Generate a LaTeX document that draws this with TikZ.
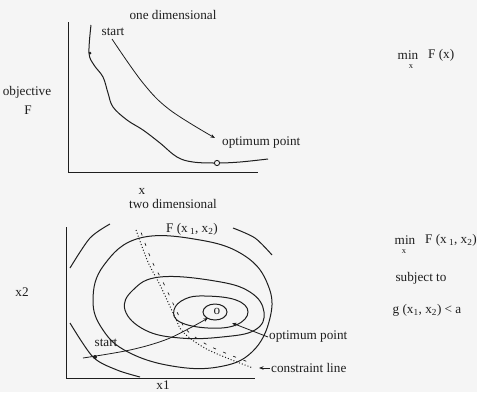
\documentclass[tikz,border=0pt]{standalone}
\usepackage{fontspec}
\setmainfont{Liberation Serif}
\usetikzlibrary{arrows.meta, positioning, decorations.markings}

\definecolor{paper}{RGB}{245,245,245}
\definecolor{ink}{RGB}{30,30,30}

\begin{document}
\begin{tikzpicture}[x=1pt, y=-1pt,
        every node/.style={font=\fontsize{13.2}{15}\selectfont, inner sep=1pt, text=ink},
        axis/.style={draw=ink, line width=1pt},
        contour/.style={draw=ink, line width=1pt},
        pointer/.style={draw=ink, -{Stealth[length=4.5pt, width=3.5pt]}, line width=0.8pt},
        constraint/.style={draw=ink, dotted, line width=1pt, postaction={decorate},
            decoration={markings, mark=between positions 0.03 and 0.97 step 11pt with
                {\draw[solid, ink, line width=0.7pt] (-1.5pt,4pt) -- (1.5pt,4pt);}}}
    ]
    \fill[paper] (0,0) rectangle (477,392);
    \useasboundingbox (0,0) rectangle (477,392);

    % One dimensional
    \node (title1) at (173,15) {one dimensional};
    \node (obj) at (27,92) {objective};
    \node (objF) at (28,110) {F};
    \node (xlab) at (142,191) {x};
    \draw [axis] (68,22) -- (68,172) -- (258,172);
    \draw [contour] plot [smooth, tension=0.6] coordinates {(91,25) (89,53) (94,65) (103,77) (108,93)
        (113,107) (127,120) (143,130) (160,143) (177,157) (193,162) (217,163) (240,162) (268,159)};
    \fill [ink] (90,53) circle (1.5);
    \draw [ink, line width=0.9pt, fill=paper] (217,163) circle (2.6);
    \node (start1) at (113,32) {start};
    \node (opt1) [anchor=west] at (221,143) {optimum point};
    \coordinate (from1) at (112,39);
    \coordinate (to1) at (215,138);
    \draw [pointer] plot [smooth, tension=0.6] coordinates {(from1) (143,83) (170,110) (to1)};
    \node (minA) at (408,55) {min};
    \node (minAx) [font=\fontsize{8.5}{9}\selectfont] at (411,67) {x};
    \node (FA) [anchor=west] at (427,55) {F (x)};

    % Two dimensional
    \node (title2) at (173,204) {two dimensional};
    \node (Fx) at (192,229) {F (x\,\textsubscript{1}, x\textsubscript{2})};
    \node (x2lab) at (22,292) {x2};
    \node (x1lab) at (163,385) {x1};
    \draw [axis] (66,227) -- (66,378) -- (255,378);
    % Contours
    \draw [contour] plot [smooth] coordinates {(70,268) (90,238) (110,224)};
    \draw [contour] plot [smooth] coordinates {(233,228) (255,238) (272,255)};
    \draw [contour] plot [smooth] coordinates {(70,323) (93,357) (117,370) (140,377)};
    \draw [contour] plot [smooth cycle, tension=0.7] coordinates {(140,238) (200,240) (245,256) (268,285)
        (270,318) (252,352) (218,367) (172,366) (128,352) (103,330) (93,300) (104,265)};
    \draw [contour] plot [smooth cycle, tension=0.7] coordinates {(160,277) (215,281) (250,292) (264,312)
        (255,330) (222,337) (180,338) (145,330) (125,310) (133,290)};
    \draw [contour] plot [smooth cycle, tension=0.7] coordinates {(205,296) (236,300) (248,312)
        (236,325) (208,328) (180,322) (174,310) (185,299)};
    \draw [contour] (215,312) ellipse (12 and 8);
    \node (optmark) at (217,311) {o};
    % Constraint
    \draw [constraint] plot [smooth, tension=0.6] coordinates {(136,230) (148,262) (160,285) (175,317)
        (183,332) (203,347) (227,358) (253,368)};
    % Search path
    \node (start2) at (106,343) {start};
    \coordinate (from2) at (83,358);
    \coordinate (to2) at (208,318);
    \fill [ink] (95,357) circle (2);
    \draw [pointer] plot [smooth, tension=0.6] coordinates {(from2) (130,350) (165,340) (190,328) (to2)};
    \node (opt2) [anchor=west] at (268,337) {optimum point};
    \coordinate (optend) at (232,323);
    \draw [pointer] (opt2.west) -- (optend);
    \node (cline) [anchor=west] at (270,368) {constraint line};
    \coordinate (cend) at (259,368);
    \draw [pointer] (cline.west) -- (cend);
    % Problem statement
    \node (minB) at (405,240) {min};
    \node (minBx) [font=\fontsize{8.5}{9}\selectfont] at (404,252) {x};
    \node (FB) [anchor=west] at (424,240) {F (x\,\textsubscript{1}, x\textsubscript{2})};
    \node (subj) at (421,278) {subject to};
    \node (gcon) at (427,310) {g (x\textsubscript{1}, x\textsubscript{2}) < a};

\end{tikzpicture}
\end{document}
